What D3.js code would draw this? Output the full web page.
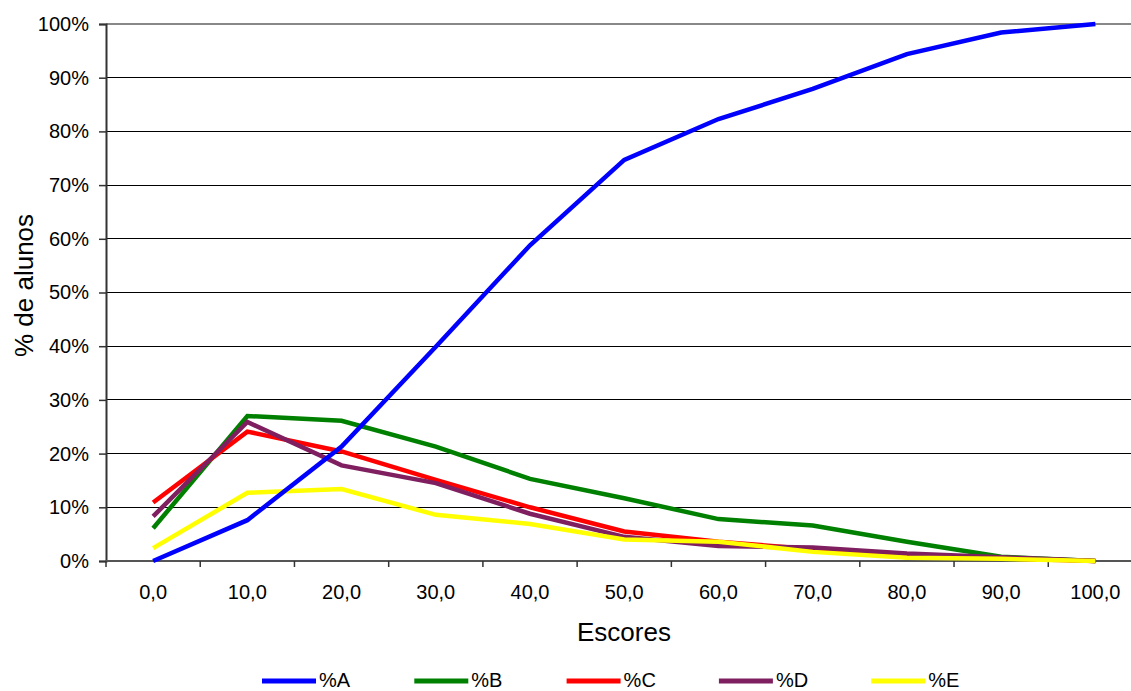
<!DOCTYPE html>
<html>
<head>
<meta charset="utf-8">
<script src="https://cdn.jsdelivr.net/npm/d3@7"></script>
<style>
  html, body { margin: 0; padding: 0; background: #fff; overflow: hidden; }
  svg { display: block; font-family: "Liberation Sans", Arial, sans-serif; }
</style>
</head>
<body>
<svg id="chart" width="1131" height="691"></svg>
<script>
const categories = ["0,0","10,0","20,0","30,0","40,0","50,0","60,0","70,0","80,0","90,0","100,0"];
const seriesA = [0, 7.6, 21.3, 39.9, 58.8, 74.7, 82.3, 87.9, 94.4, 98.4, 100];
const seriesB = [6.1, 27.0, 26.1, 21.3, 15.3, 11.7, 7.8, 6.6, 3.6, 0.8, 0];
const seriesC = [10.9, 24.1, 20.4, 15.1, 10.0, 5.5, 3.6, 2.2, 1.1, 0.5, 0];
const seriesD = [8.3, 25.9, 17.8, 14.5, 8.8, 4.5, 2.8, 2.5, 1.4, 0.7, 0];
const seriesE = [2.4, 12.7, 13.4, 8.6, 6.9, 4.0, 3.6, 1.7, 0.6, 0.4, 0];
const seriesNames = ["%A","%B","%C","%D","%E"];
const seriesColors = ["#0000FF","#008000","#FF0000","#7F1F60","#FFFF00"];
const yTicks = [0,10,20,30,40,50,60,70,80,90,100];
const xTitle = "Escores";
const yTitle = "% de alunos";

const series = [seriesA, seriesB, seriesC, seriesD, seriesE];
// drawing order: A on top of the others
const drawOrder = [1, 2, 3, 4, 0];

const svg = d3.select("#chart");
const pLeft = 106, pRight = 1142.5, pTop = 24, pBottom = 561;

const x = d3.scaleBand().domain(categories).range([pLeft, pRight]).padding(0);
const y = d3.scaleLinear().domain([0, 100]).range([pBottom, pTop]);
const bw = x.bandwidth();

// gridlines
svg.append("g").selectAll("line")
  .data(yTicks.filter(t => t > 0 && t < 100))
  .join("line")
  .attr("x1", pLeft).attr("x2", pRight)
  .attr("y1", d => y(d)).attr("y2", d => y(d))
  .attr("stroke", "#000").attr("stroke-width", 1)
  .attr("shape-rendering", "crispEdges");

// top border
svg.append("line")
  .attr("x1", pLeft).attr("x2", pRight)
  .attr("y1", y(100)).attr("y2", y(100))
  .attr("stroke", "#888").attr("stroke-width", 2);

// y axis
const yAxis = d3.axisLeft(y).tickValues(yTicks).tickSize(7).tickPadding(10)
  .tickFormat(d => d + "%");
const gy = svg.append("g").attr("transform", `translate(${pLeft},0)`).call(yAxis);
gy.select(".domain").attr("stroke", "#333").attr("stroke-width", 2);
gy.selectAll(".tick line").attr("stroke", "#333").attr("stroke-width", 1.5);
gy.selectAll(".tick text").attr("font-size", 20).attr("fill", "#000")
  .attr("font-family", "'Liberation Sans', Arial, sans-serif");

// x axis line
svg.append("line")
  .attr("x1", pLeft).attr("x2", pRight)
  .attr("y1", pBottom).attr("y2", pBottom)
  .attr("stroke", "#555").attr("stroke-width", 2);

// x ticks at band boundaries
const bounds = categories.map(c => x(c)).concat([x(categories[categories.length-1]) + bw]);
svg.append("g").selectAll("line")
  .data(bounds)
  .join("line")
  .attr("x1", d => d).attr("x2", d => d)
  .attr("y1", pBottom).attr("y2", pBottom + 6)
  .attr("stroke", "#333").attr("stroke-width", 1.5);

// x labels
svg.append("g").selectAll("text")
  .data(categories)
  .join("text")
  .attr("x", d => x(d) + bw / 2)
  .attr("y", 599)
  .attr("text-anchor", "middle")
  .attr("font-size", 20)
  .text(d => d);

// axis titles
svg.append("text")
  .attr("x", 624)
  .attr("y", 641)
  .attr("text-anchor", "middle")
  .attr("font-size", 26)
  .text(xTitle);
svg.append("text")
  .attr("transform", `translate(33,${285.5}) rotate(-90)`)
  .attr("text-anchor", "middle")
  .attr("font-size", 26)
  .text(yTitle);

// lines
const line = d3.line()
  .x((d, i) => x(categories[i]) + bw / 2)
  .y(d => y(d));

svg.append("g").selectAll("path")
  .data(drawOrder)
  .join("path")
  .attr("d", k => line(series[k]))
  .attr("fill", "none")
  .attr("stroke", k => seriesColors[k])
  .attr("stroke-width", 4.5)
  .attr("stroke-linejoin", "miter")
  .attr("stroke-linecap", "butt");

// legend
const legX0 = 262, legStep = 152.3, legY = 681;
const leg = svg.append("g").selectAll("g")
  .data(seriesNames)
  .join("g")
  .attr("transform", (d, i) => `translate(${legX0 + i * legStep},${legY})`);
leg.append("line")
  .attr("x1", 0).attr("x2", 54)
  .attr("y1", 0).attr("y2", 0)
  .attr("stroke", (d, i) => seriesColors[i])
  .attr("stroke-width", 5);
leg.append("text")
  .attr("x", 57)
  .attr("y", 5.5)
  .attr("font-size", 20)
  .text(d => d);
</script>
</body>
</html>
